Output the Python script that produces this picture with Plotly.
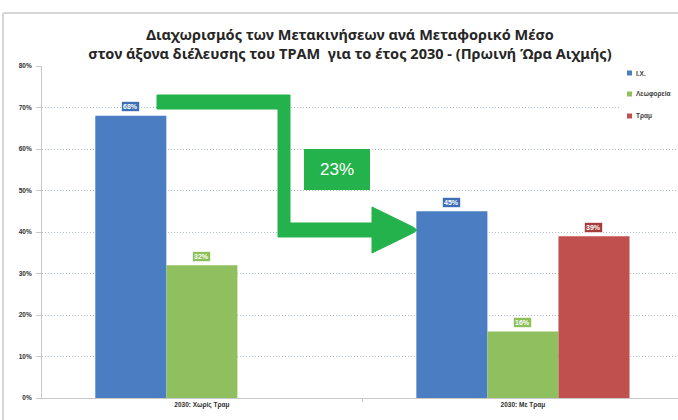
import plotly.graph_objects as go

# ---------------- data ----------------
categories = ["2030: Χωρίς Τραμ", "2030: Με Τραμ"]
series_names = ["Ι.Χ.", "Λεωφορεία", "Τραμ"]
ix_values = [68, 45]
bus_values = [32, 16]
tram_values = [None, 39]
y_tick_values = [0, 10, 20, 30, 40, 50, 60, 70, 80]
y_tick_labels = ["0%", "10%", "20%", "30%", "40%", "50%", "60%", "70%", "80%"]
change_label = "23%"
title_lines = ["Διαχωρισμός των Μετακινήσεων ανά Μεταφορικό Μέσο",
               "στον άξονα διέλευσης του ΤΡΑΜ  για το έτος 2030 - (Πρωινή Ώρα Αιχμής)"]

# ---------------- style ----------------
W, H = 678, 420
ML, MR, MT, MB = 42, 0, 66, 22
PW, PH = W - ML - MR, H - MT - MB
bar_colors = ["#4a7dc2", "#8fbf5f", "#c0504d"]
label_colors = ["#3e6fb6", "#8cc15a", "#a33c3b"]
arrow_green = "#23b24b"
BARGAP = 0.336
slot = (1 - BARGAP) / 3
x_range = [-0.498, 1.483]

def px_x(px):
    return (px - ML) / PW

def px_y(py):
    return (H - MB - py) / PH

x_pos = list(range(len(categories)))
all_series = [ix_values, bus_values, tram_values]

fig = go.Figure()
for name, vals, col in zip(series_names, all_series, bar_colors):
    fig.add_trace(go.Bar(x=x_pos, y=vals, name=name, marker=dict(color=col, line=dict(width=0)),
                         showlegend=False, hoverinfo="skip"))

annotations = []
shapes = []

# data labels (boxed, above bars)
for si, (vals, lc) in enumerate(zip(all_series, label_colors)):
    offset = (si - 1) * slot
    for ci, v in enumerate(vals):
        if v is None:
            continue
        annotations.append(dict(x=x_pos[ci] + offset, y=v, xref="x", yref="y", text=f"{v}%",
                                showarrow=False, yshift=9, bgcolor=lc, borderpad=1,
                                bordercolor="rgba(255,255,255,0.6)", borderwidth=1,
                                font=dict(family="Liberation Sans", size=7, color="white", weight="bold")))

# frame lines
shapes.append(dict(type="line", xref="paper", yref="paper", x0=px_x(3), x1=px_x(W), y0=px_y(13), y1=px_y(13),
                   line=dict(color="#d6d6d6", width=2), layer="above"))
shapes.append(dict(type="line", xref="paper", yref="paper", x0=px_x(3), x1=px_x(3), y0=px_y(13), y1=px_y(H),
                   line=dict(color="#d6d6d6", width=2), layer="above"))

# legend area white background
shapes.append(dict(type="rect", xref="paper", yref="paper", x0=px_x(619), x1=px_x(W + 2), y0=px_y(128), y1=px_y(58),
                   fillcolor="white", line=dict(width=0), layer="above"))
legend_y = [73, 94, 116]
for name, col, ly in zip(series_names, bar_colors, legend_y):
    shapes.append(dict(type="rect", xref="paper", yref="paper", x0=px_x(627), x1=px_x(632),
                       y0=px_y(ly + 2.5), y1=px_y(ly - 2.5), fillcolor=col, line=dict(width=0), layer="above"))
    annotations.append(dict(x=px_x(634), y=px_y(ly), xref="paper", yref="paper", text=name, showarrow=False,
                            xanchor="left", yanchor="middle",
                            font=dict(family="Liberation Sans", size=6.5, color="#404040", weight="bold")))

# arrow (decoration)
arrow_px = [(157, 95), (290, 95), (290, 223), (372, 223), (372, 207), (413, 227), (417, 230), (413, 233),
            (372, 253), (372, 237), (278, 237), (278, 109), (157, 109)]
path = "M " + " L ".join(f"{px_x(a):.5f},{px_y(b):.5f}" for a, b in arrow_px) + " Z"
shapes.append(dict(type="path", xref="paper", yref="paper", path=path, fillcolor=arrow_green,
                   line=dict(color=arrow_green, width=1), layer="above"))

# 23% box
shapes.append(dict(type="rect", xref="paper", yref="paper", x0=px_x(304), x1=px_x(370), y0=px_y(190), y1=px_y(149),
                   fillcolor=arrow_green, line=dict(width=0), layer="above"))
annotations.append(dict(x=px_x(337), y=px_y(169.5), xref="paper", yref="paper", text=change_label, showarrow=False,
                        xanchor="center", yanchor="middle",
                        font=dict(family="Liberation Sans", size=17, color="white")))

fig.update_layout(
    width=W, height=H,
    margin=dict(l=ML, r=MR, t=MT, b=MB, autoexpand=False),
    paper_bgcolor="white", plot_bgcolor="white",
    barmode="group", bargap=BARGAP, bargroupgap=0,
    title=dict(text="<br>".join(title_lines), x=350 / W, xanchor="center", y=1 - 40 / H, yanchor="middle",
               yref="container",
               font=dict(family="Noto Sans", size=14.5, color="#262626", weight="bold")),
    showlegend=False,
    annotations=annotations,
    shapes=shapes,
    xaxis=dict(range=x_range, tickvals=x_pos, ticktext=categories, showgrid=False, zeroline=False,
               showline=True, linecolor="#c8c8c8", linewidth=1, ticks="",
               tickfont=dict(family="Liberation Sans", size=6.5, color="#303030", weight="bold"),
               minor=dict(tickvals=[0.5], ticks="outside", ticklen=3, tickcolor="#c8c8c8")),
    yaxis=dict(range=[0, 80], tickvals=y_tick_values, ticktext=y_tick_labels, showgrid=True,
               gridcolor="#aebcd3", griddash="1px,2px", gridwidth=1, zeroline=False,
               showline=True, linecolor="#c8c8c8", linewidth=1, ticks="outside", ticklen=5,
               tickcolor="#c8c8c8", ticklabelstandoff=3,
               tickfont=dict(family="Liberation Sans", size=6.5, color="#303030", weight="bold")),
)

fig.write_html("out.html", config={"displayModeBar": False},
               post_script="document.body.style.margin='0';document.body.style.overflow='hidden';")
